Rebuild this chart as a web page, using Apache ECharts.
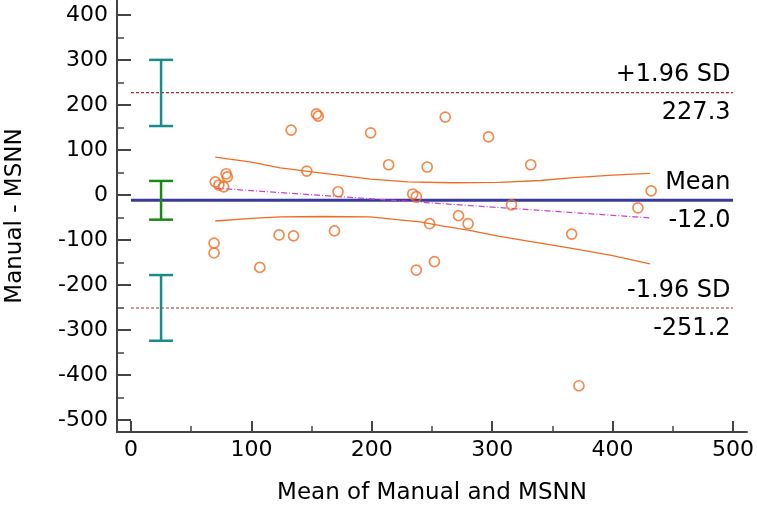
<!DOCTYPE html>
<html>
<head>
<meta charset="utf-8">
<script src="https://cdn.jsdelivr.net/npm/echarts@6/dist/echarts.min.js"></script>
<style>html,body{margin:0;padding:0;background:#fff}#c{width:757px;height:511px}</style>
</head>
<body>
<div id="c"></div>
<script>
// ---- data ----
const xTicks = [0, 100, 200, 300, 400, 500];
const xMinorTicks = [50, 150, 250, 350, 450];
const yTicks = [-500, -400, -300, -200, -100, 0, 100, 200, 300, 400];
const yMinorTicks = [-450, -350, -250, -150, -50, 50, 150, 250, 350];
const points = [
  [154,180],[155.5,175],[133,144],[199,138],[261,173],[297,129],[214,67],[246,62],[332,67],
  [146,53],[70,29],[79,47],[80,40],[73,22],[77,18],[172,7],[234,2],[237,-4],[432,9],
  [316,-22],[421,-29],[272,-46],[248,-64],[280,-64],[123,-89],[135,-91],[169,-80],[366,-87],
  [69,-107],[69,-129],[107,-161],[237,-167],[252,-148],[372,-424]
];
const upperCurve = [[70,84],[100,73],[124,60],[157,49],[199,35],[230,29],[265,27],[306,28],[340,32],[365,38],[400,44],[431,48]];
const lowerCurve = [[70,-58],[100,-52],[124,-49],[160,-48],[199,-49],[221,-55],[240,-60],[257,-68],[280,-78],[306,-92],[340,-107],[365,-118],[400,-135],[431,-153]];
const regression = [[70,15],[431,-51]];
const meanDiff = -12.0;
const upperLoA = 227.3;
const lowerLoA = -251.2;
const lineSpan = [0, 500];
const ciX = 25;
const ciBars = [[ciX, 153, 300], [ciX, -55, 31], [ciX, -324, -178]];
const refLabels = [
  ['+1.96 SD', '227.3'],
  ['Mean', '-12.0'],
  ['-1.96 SD', '-251.2']
];

// ---- styles ----
const ciColors = ['#1a8c8c', '#1a8a1a', '#1a8c8c'];
const font = 'DejaVu Sans';

function refSeries(v, style) {
  return {
    type: 'line', xAxisIndex: 0, yAxisIndex: 0, symbol: 'none', silent: true,
    data: [[lineSpan[0], v], [lineSpan[1], v]],
    lineStyle: style, z: 3
  };
}
function labelSeries(v, text, above) {
  return {
    type: 'scatter', silent: true, symbol: 'circle', symbolSize: 1, z: 7,
    itemStyle: { color: 'rgba(0,0,0,0)' },
    data: [[lineSpan[1], v]],
    label: {
      show: true, position: [0, 0], formatter: text,
      align: 'right', verticalAlign: above ? 'bottom' : 'top',
      padding: above ? [0, 2, 5, 0] : [9, 2, 0, 0],
      color: '#000', opacity: 1, fontFamily: font, fontSize: 24
    },
    labelLayout: { hideOverlap: false }
  };
}

const chart = echarts.init(document.getElementById('c'), null, { renderer: 'canvas' });
chart.setOption({
  animation: false,
  backgroundColor: '#fff',
  grid: { left: 117, right: 10, top: 0, bottom: 79, outerBoundsMode: 'none', containLabel: false },
  xAxis: [{
    type: 'value', min: -11.6, max: 511.6, position: 'bottom',
    name: 'Mean of Manual and MSNN', nameLocation: 'middle', nameGap: 50,
    nameTextStyle: { fontFamily: font, fontSize: 23, color: '#000' },
    axisLine: { show: true, onZero: false, lineStyle: { color: '#444', width: 2 } },
    axisTick: { show: true, inside: true, length: 11, customValues: xTicks, lineStyle: { color: '#444', width: 2 } },
    axisLabel: { customValues: xTicks, fontFamily: font, fontSize: 22, color: '#000', margin: 7 },
    splitLine: { show: false }
  }, {
    type: 'value', min: -11.6, max: 511.6, position: 'bottom',
    axisLine: { show: false, onZero: false },
    axisTick: { show: true, inside: true, length: 6, customValues: xMinorTicks, lineStyle: { color: '#444', width: 1.5 } },
    axisLabel: { show: false },
    splitLine: { show: false }
  }],
  yAxis: [{
    type: 'value', min: -526.7, max: 433, position: 'left',
    name: 'Manual - MSNN', nameLocation: 'middle', nameGap: 90, nameRotate: 90,
    nameTextStyle: { fontFamily: font, fontSize: 23, color: '#000' },
    axisLine: { show: true, onZero: false, lineStyle: { color: '#444', width: 2 } },
    axisTick: { show: true, inside: true, length: 14, customValues: yTicks, lineStyle: { color: '#444', width: 2 } },
    axisLabel: { customValues: yTicks, fontFamily: font, fontSize: 22, color: '#000', margin: 9 },
    splitLine: { show: false }
  }, {
    type: 'value', min: -526.7, max: 433, position: 'left',
    axisLine: { show: false, onZero: false },
    axisTick: { show: true, inside: true, length: 7, customValues: yMinorTicks, lineStyle: { color: '#444', width: 1.5 } },
    axisLabel: { show: false },
    splitLine: { show: false }
  }],
  series: [
    refSeries(upperLoA, { color: '#a52a2a', width: 1.2, type: [3, 2] }),
    refSeries(meanDiff, { color: '#3a3a9c', width: 3, type: 'solid' }),
    refSeries(lowerLoA, { color: '#a52a2a', width: 1.2, type: [3, 2] }),
    labelSeries(upperLoA, refLabels[0][0], true),
    labelSeries(upperLoA, refLabels[0][1], false),
    labelSeries(meanDiff, refLabels[1][0], true),
    labelSeries(meanDiff, refLabels[1][1], false),
    labelSeries(lowerLoA, refLabels[2][0], true),
    labelSeries(lowerLoA, refLabels[2][1], false),
    {
      type: 'line', symbol: 'none', silent: true, data: upperCurve, z: 4,
      lineStyle: { color: '#f26b22', width: 1.3 }
    },
    {
      type: 'line', symbol: 'none', silent: true, data: lowerCurve, z: 4,
      lineStyle: { color: '#f26b22', width: 1.3 }
    },
    {
      type: 'line', symbol: 'none', silent: true, data: regression, z: 4,
      lineStyle: { color: '#cc44cc', width: 1.2, type: [6, 2, 1, 2] }
    },
    {
      type: 'custom', silent: true, z: 5,
      data: ciBars,
      renderItem: function (params, api) {
        const x = api.value(0);
        const lo = api.coord([x, api.value(1)]);
        const hi = api.coord([x, api.value(2)]);
        const c = ciColors[params.dataIndex];
        const hw = 12;
        const st = { stroke: c, lineWidth: 2.5 };
        return {
          type: 'group',
          children: [
            { type: 'line', shape: { x1: lo[0], y1: lo[1], x2: hi[0], y2: hi[1] }, style: st },
            { type: 'line', shape: { x1: lo[0] - hw, y1: lo[1], x2: lo[0] + hw, y2: lo[1] }, style: st },
            { type: 'line', shape: { x1: hi[0] - hw, y1: hi[1], x2: hi[0] + hw, y2: hi[1] }, style: st }
          ]
        };
      }
    },
    {
      type: 'scatter', silent: true, data: points, z: 6,
      symbol: 'circle', symbolSize: 10,
      itemStyle: { color: 'rgba(255,255,255,0)', borderColor: '#f26b22', borderWidth: 1.7 }
    }
  ]
});
</script>
</body>
</html>
